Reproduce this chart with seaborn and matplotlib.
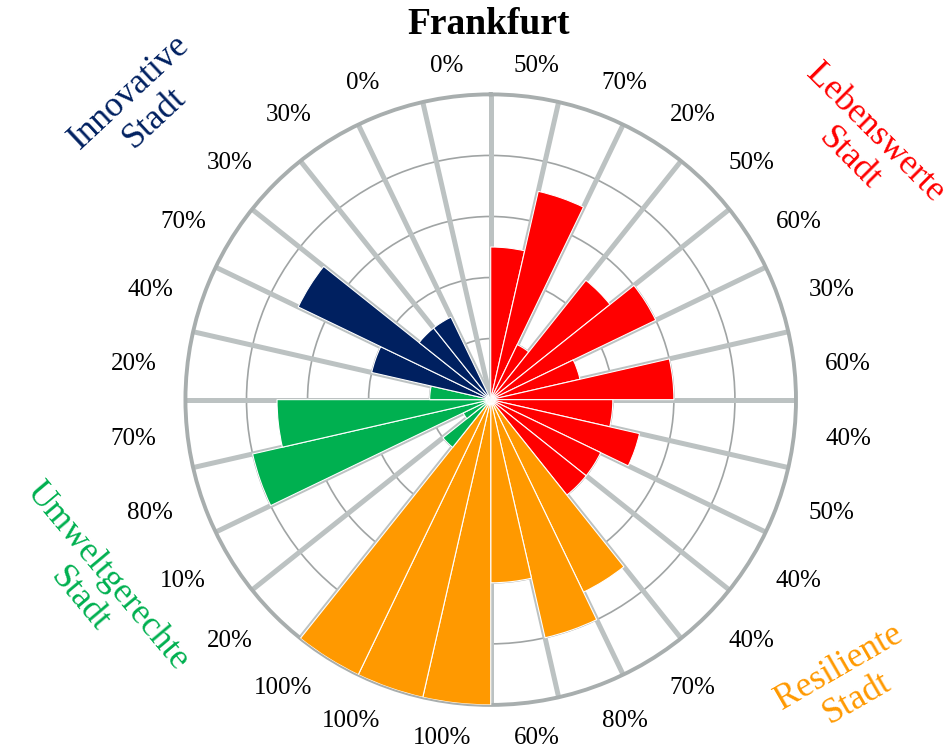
import numpy as np
import pandas as pd
import matplotlib.pyplot as plt
import seaborn as sns

# Werte je Dimension (im Uhrzeigersinn ab 12 Uhr)
lebenswert = [50, 70, 20, 50, 60, 30, 60, 40, 50, 40, 40]
resilient = [70, 80, 60, 100, 100, 100]
umwelt = [20, 10, 80, 70, 20]
innovativ = [40, 70, 30, 30, 0, 0]

groups = ["Lebenswerte\nStadt", "Resiliente\nStadt", "Umweltgerechte\nStadt", "Innovative\nStadt"]
colors = ["#FF0000", "#FF9900", "#00B050", "#002060"]
title = "Frankfurt"

sns.set_style("white")
plt.rcParams['font.family'] = ['Liberation Serif', 'DejaVu Serif']
plt.rcParams['text.color'] = 'black'

dados = pd.DataFrame({
    'value': lebenswert + resilient + umwelt + innovativ,
    'group': ([groups[0]] * len(lebenswert) + [groups[1]] * len(resilient)
              + [groups[2]] * len(umwelt) + [groups[3]] * len(innovativ)),
})
palette = dict(zip(groups, colors))
n = len(dados)
step = 2 * np.pi / n
dados['theta'] = np.arange(n) * step + step / 2

fig = plt.figure(figsize=(9.51, 7.47), dpi=100)
ax = fig.add_axes([0.195, 0.056, 0.642, 0.818], projection='polar')
ax.set_theta_zero_location('N')
ax.set_theta_direction(-1)
ax.set_ylim(0, 100)

# Balken
ax.bar(dados['theta'], dados['value'], width=step,
       color=dados['group'].map(palette), edgecolor='white', linewidth=0.8, zorder=3)

# dicke Speichen
for a in np.arange(n) * step:
    ax.plot([a, a], [0, 100], color='#BCC2C2', lw=3.6, zorder=2, solid_capstyle='butt')

# Ringe
ax.set_axisbelow(True)
ax.set_yticks([20, 40, 60, 80])
ax.set_yticklabels([])
ax.yaxis.grid(True, color='#A0A4A4', lw=1.2)
ax.set_xticks([])
ax.xaxis.grid(False)
ax.spines['polar'].set_color('#A8AEAE')
ax.spines['polar'].set_linewidth(2.8)

# Prozentbeschriftung aussen (Pixel relativ zur Mitte -> Achsenkoordinaten)
size_px = ax.get_position().height * 747
for t, v in zip(dados['theta'], dados['value']):
    lab = f"{v}%"
    hw = (0.5 * (len(lab) - 1) + 0.833) * 24.5 / 2
    s, c = np.sin(t), np.cos(t)
    dx = 337 * s + hw * np.clip(3.3 * s, -1, 1)
    dy = 338 * c - 2
    ax.text(0.5 + dx / size_px, 0.5 + dy / size_px, lab, transform=ax.transAxes,
            fontsize=18, ha='center', va='center', clip_on=False)

# Dimensionen
cat_pos = {
    groups[0]: (862, 146, -45),
    groups[1]: (848, 683, 30),
    groups[2]: (93, 588, -50),
    groups[3]: (142, 105, 43),
}
for g, (x, y, rot) in cat_pos.items():
    fig.text(x / 951, 1 - y / 747, g, color=palette[g], fontsize=25.5, rotation=rot,
             ha='center', va='center', multialignment='center', linespacing=1.12,
             rotation_mode='anchor')

fig.text(489 / 951, 1 - 25 / 747, title, fontsize=27, fontweight='bold', ha='center', va='center')

plt.savefig('out.png', dpi=100)
